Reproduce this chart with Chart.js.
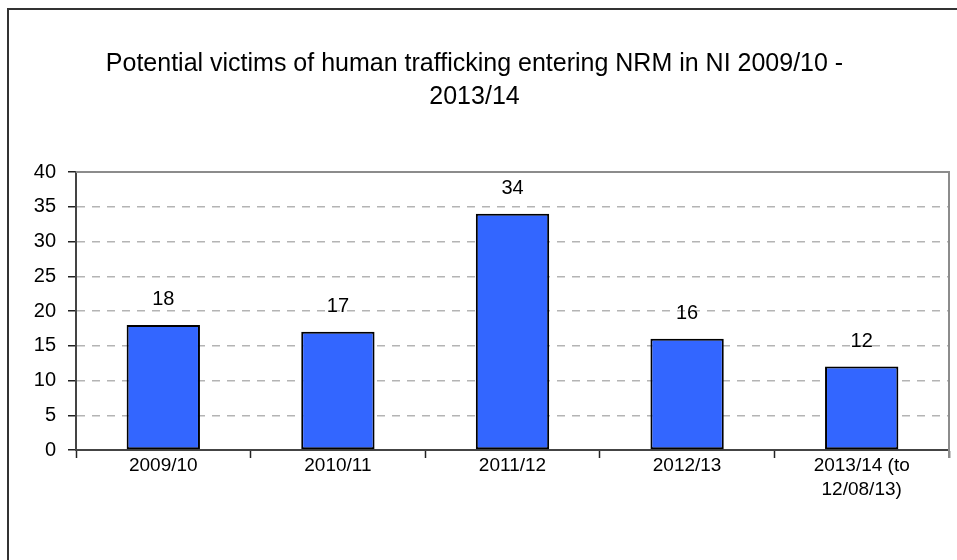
<!DOCTYPE html>
<html>
<head>
<meta charset="utf-8">
<title>Potential victims of human trafficking entering NRM in NI</title>
<script src="https://cdn.jsdelivr.net/npm/chart.js@4"></script>
<style>
  html, body { margin: 0; padding: 0; background: #fff; }
  #wrap { width: 957px; height: 560px; position: relative; }
</style>
</head>
<body>
<div id="wrap"><canvas id="nrm-chart"></canvas></div>
<script>
// Potential victims of human trafficking entering the NRM in NI, by year
const years = ['2009/10', '2010/11', '2011/12', '2012/13', ['2013/14 (to', '12/08/13)']];
const victims = [18, 17, 34, 16, 12];
const yTicks = [0, 5, 10, 15, 20, 25, 30, 35, 40];

const FONT = "'Liberation Sans Narrow', 'Arial Narrow', 'Liberation Sans', Arial, sans-serif";

// outer frame, plot border and value labels above bars
const decorations = {
  id: 'decorations',
  beforeDraw(chart) {
    const ctx = chart.ctx;
    ctx.save();
    ctx.strokeStyle = '#333';
    ctx.lineWidth = 2;
    ctx.beginPath();
    ctx.moveTo(8, 560);
    ctx.lineTo(8, 9);
    ctx.lineTo(957, 9);
    ctx.stroke();
    ctx.restore();
  },
  afterDraw(chart) {
    const ctx = chart.ctx;
    const a = chart.chartArea;
    ctx.save();
    ctx.strokeStyle = '#8c8c8c';
    ctx.lineWidth = 2;
    ctx.beginPath();
    ctx.moveTo(a.left, a.top);
    ctx.lineTo(a.right, a.top);
    ctx.lineTo(a.right, a.bottom + 8);
    ctx.stroke();

    const meta = chart.getDatasetMeta(0);
    ctx.fillStyle = '#000';
    ctx.font = '20px ' + FONT;
    ctx.textAlign = 'center';
    ctx.textBaseline = 'bottom';
    meta.data.forEach((bar, i) => {
      ctx.fillText(String(victims[i]), bar.x, bar.y - 15);
    });
    ctx.restore();
  }
};

new Chart(document.getElementById('nrm-chart'), {
  type: 'bar',
  data: {
    labels: years,
    datasets: [{
      data: victims,
      backgroundColor: '#3366FF',
      borderColor: '#000',
      borderWidth: 2,
      borderSkipped: false,
      categoryPercentage: 1,
      barPercentage: 0.42
    }]
  },
  options: {
    responsive: true,
    maintainAspectRatio: false,
    animation: false,
    layout: { padding: { left: 0, right: 8, top: 0, bottom: 0 } },
    plugins: {
      legend: { display: false },
      tooltip: { enabled: false },
      title: {
        display: true,
        text: ['Potential victims of human trafficking entering NRM in NI 2009/10 -', '2013/14'],
        color: '#000',
        font: { family: FONT, size: 25, weight: 'normal', lineHeight: 1.34 },
        padding: { top: 47, bottom: 58 }
      }
    },
    scales: {
      x: {
        afterFit(s) { s.height = 110; },
        grid: {
          offset: true,
          drawOnChartArea: false,
          drawTicks: true,
          tickLength: 8,
          tickColor: '#222',
          tickWidth: 1.5
        },
        border: { color: '#444', width: 2 },
        ticks: {
          color: '#000',
          padding: -5,
          maxRotation: 0,
          font: { family: FONT, size: 19, lineHeight: 1.3 }
        }
      },
      y: {
        min: 0,
        max: 40,
        afterFit(s) { s.width = 76; },
        afterBuildTicks(s) { s.ticks = yTicks.map(v => ({ value: v })); },
        grid: {
          color: '#b4b4b4',
          lineWidth: 1.5,
          tickColor: '#222',
          tickLength: 8,
          tickWidth: 1.5,
          tickBorderDash: [1, 0]
        },
        border: { color: '#444', width: 2, dash: [8, 7] },
        ticks: {
          color: '#000',
          padding: 12,
          font: { family: FONT, size: 20 }
        }
      }
    }
  },
  plugins: [decorations]
});
</script>
</body>
</html>
